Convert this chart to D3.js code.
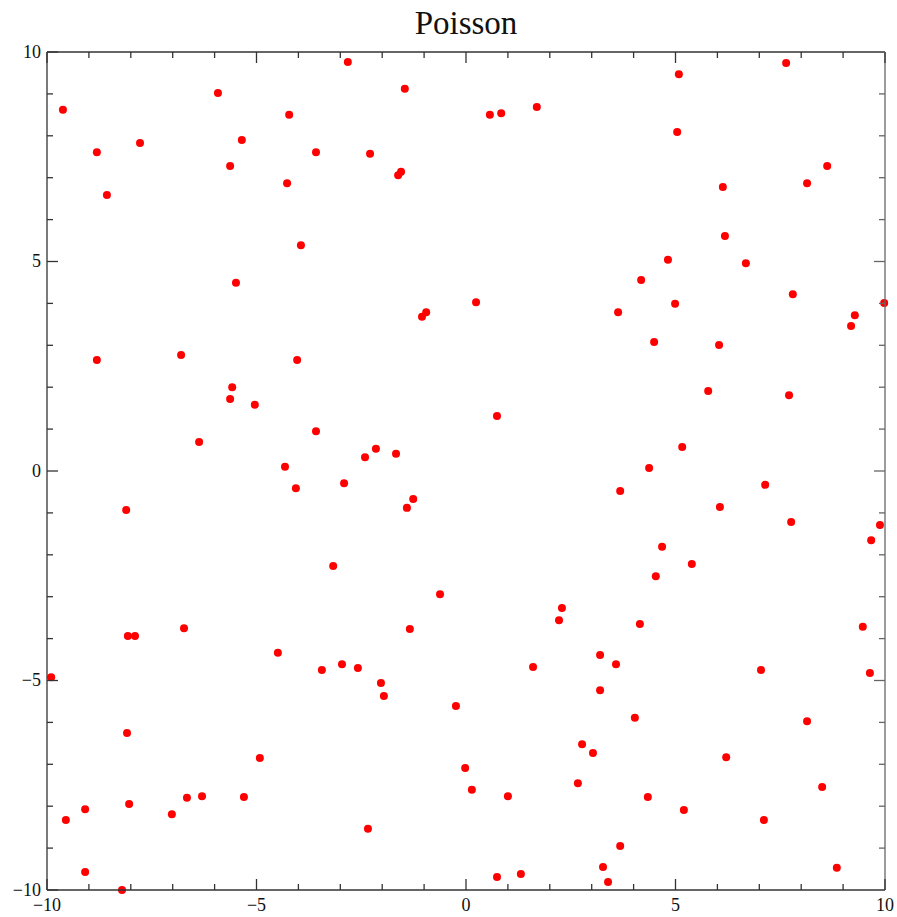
<!DOCTYPE html>
<html>
<head>
<meta charset="utf-8">
<script src="https://cdn.jsdelivr.net/npm/d3@7"></script>
<style>
  html, body { margin: 0; padding: 0; background: #fff; }
  svg { display: block; }
</style>
</head>
<body>
<svg id="chart" width="897" height="917"></svg>
<script>
const title = "Poisson";
const xDomain = [-10, 10];
const yDomain = [-10, 10];
const majorTicks = [-10, -5, 0, 5, 10];
const minorTicks = d3.range(-10, 11, 1);

const xs = [-9.62,-8.81,-8.57,-7.78,-5.92,-5.63,-5.35,-4.22,-2.82,-4.27,-3.58,-2.29,-1.62,-1.55,-1.46,0.57,0.84,1.69,5.08,5.04,7.64,6.13,8.14,8.62,
  -3.94,-5.49,6.18,4.82,6.68,4.18,7.80,0.24,3.63,4.99,9.98,9.28,9.19,-1.05,-0.95,4.49,6.04,-8.81,-6.80,-4.03,-5.58,-5.63,-5.04,5.78,7.71,0.74,
  -3.58,-6.37,-2.15,-2.41,-1.67,5.16,-4.32,4.37,-2.91,-4.06,7.14,3.68,-1.26,-1.41,6.06,7.76,-8.11,9.88,9.67,4.68,5.39,4.53,-3.17,-0.62,
  2.29,2.22,4.15,9.47,-6.73,-1.34,-8.07,-7.90,-4.49,3.20,3.58,-2.96,-2.58,-3.44,1.60,7.04,9.64,-9.90,-2.03,-1.96,3.20,-0.24,4.03,8.14,
  -8.09,2.77,3.03,6.21,-4.92,-0.02,2.67,8.50,0.14,-6.66,-6.30,-5.30,1.00,4.34,-8.04,-9.09,5.20,-7.02,-9.55,7.11,-2.34,3.68,-9.09,3.27,8.85,
  0.74,1.31,3.39,-8.21];
const ys = [8.62,7.61,6.59,7.83,9.02,7.28,7.90,8.50,9.76,6.87,7.61,7.57,7.06,7.14,9.12,8.50,8.54,8.69,9.47,8.09,9.74,6.78,6.87,7.28,
  5.39,4.49,5.61,5.04,4.96,4.56,4.22,4.03,3.79,3.99,4.01,3.72,3.46,3.68,3.79,3.08,3.01,2.65,2.77,2.65,2.00,1.72,1.58,1.91,1.81,1.31,
  0.95,0.69,0.53,0.33,0.41,0.57,0.10,0.07,-0.29,-0.41,-0.33,-0.48,-0.67,-0.88,-0.86,-1.22,-0.93,-1.29,-1.65,-1.81,-2.22,-2.51,-2.27,-2.94,
  -3.27,-3.56,-3.65,-3.72,-3.75,-3.77,-3.94,-3.94,-4.34,-4.39,-4.61,-4.61,-4.70,-4.75,-4.68,-4.75,-4.82,-4.92,-5.06,-5.37,-5.23,-5.61,-5.89,-5.97,
  -6.25,-6.52,-6.73,-6.83,-6.85,-7.09,-7.45,-7.54,-7.61,-7.80,-7.76,-7.78,-7.76,-7.78,-7.95,-8.07,-8.09,-8.19,-8.33,-8.33,-8.54,-8.95,-9.57,-9.45,-9.47,
  -9.69,-9.62,-9.81,-10.0];

const points = xs.map((x, i) => ({x, y: ys[i]}));

const margin = {left: 47, top: 52, right: 12, bottom: 27};
const W = 897, H = 917;
const svg = d3.select("#chart");
const x = d3.scaleLinear().domain(xDomain).range([margin.left, W - margin.right]);
const y = d3.scaleLinear().domain(yDomain).range([H - margin.bottom, margin.top]);

const axisColor = "#333";
const fontFam = "'Liberation Serif', 'Times New Roman', serif";

svg.append("text")
  .attr("x", (x.range()[0] + x.range()[1]) / 2)
  .attr("y", 34)
  .attr("text-anchor", "middle")
  .attr("font-family", fontFam)
  .attr("font-size", 33)
  .attr("fill", "#111")
  .text(title);

// points
svg.append("g").selectAll("circle").data(points).join("circle")
  .attr("cx", d => x(d.x))
  .attr("cy", d => y(d.y))
  .attr("r", 4)
  .attr("fill", "#f00");

// frame
const x0 = x.range()[0], x1 = x.range()[1], y0 = y.range()[1], y1 = y.range()[0];
const frame = svg.append("g").attr("stroke", axisColor).attr("stroke-width", 1.3).attr("fill", "none");
frame.append("line").attr("x1", x0).attr("x2", x1).attr("y1", y0).attr("y2", y0);
frame.append("line").attr("x1", x0).attr("x2", x1).attr("y1", y1).attr("y2", y1);
frame.append("line").attr("x1", x0).attr("x2", x0).attr("y1", y0).attr("y2", y1);
frame.append("line").attr("x1", x1).attr("x2", x1).attr("y1", y0).attr("y2", y1).attr("stroke", "#666");

const tickLen = v => (majorTicks.includes(v) ? 11 : 6);
const ticks = svg.append("g").attr("stroke", axisColor).attr("stroke-width", 1.3);
minorTicks.forEach(v => {
  const L = tickLen(v);
  ticks.append("line").attr("x1", x(v)).attr("x2", x(v)).attr("y1", y1).attr("y2", y1 - L);
  ticks.append("line").attr("x1", x(v)).attr("x2", x(v)).attr("y1", y0).attr("y2", y0 + L);
  ticks.append("line").attr("y1", y(v)).attr("y2", y(v)).attr("x1", x0).attr("x2", x0 + L);
  ticks.append("line").attr("y1", y(v)).attr("y2", y(v)).attr("x1", x1).attr("x2", x1 - L).attr("stroke", "#666");
});

const fmt = d3.format("d");
svg.append("g").selectAll("text").data(majorTicks).join("text")
  .attr("x", d => x(d))
  .attr("y", y1 + 21)
  .attr("text-anchor", "middle")
  .attr("font-family", fontFam)
  .attr("font-size", 18)
  .attr("fill", "#111")
  .text(d => fmt(d));

svg.append("g").selectAll("text").data(majorTicks).join("text")
  .attr("x", x0 - 6)
  .attr("y", d => y(d))
  .attr("dy", "0.33em")
  .attr("text-anchor", "end")
  .attr("font-family", fontFam)
  .attr("font-size", 18)
  .attr("fill", "#111")
  .text(d => fmt(d));
</script>
</body>
</html>
